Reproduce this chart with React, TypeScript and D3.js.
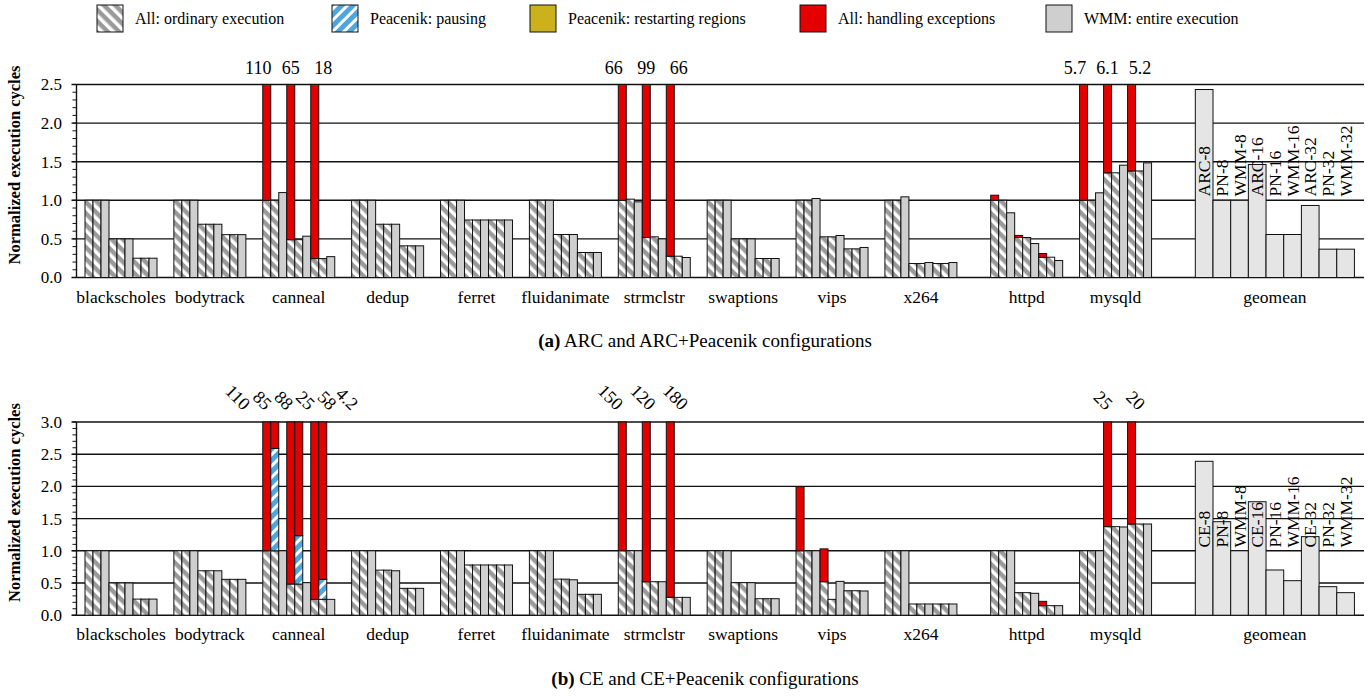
import React from "react";
import * as d3 from "d3";

// benchmarks and configurations
const benchmarks = ["blackscholes", "bodytrack", "canneal", "dedup", "ferret", "fluidanimate",
  "strmclstr", "swaptions", "vips", "x264", "httpd", "mysqld"];
const configsA = ["ARC-8", "PN-8", "WMM-8", "ARC-16", "PN-16", "WMM-16", "ARC-32", "PN-32", "WMM-32"];
const configsB = ["CE-8", "PN-8", "WMM-8", "CE-16", "PN-16", "WMM-16", "CE-32", "PN-32", "WMM-32"];

const legendLabels = ["All: ordinary execution", "Peacenik: pausing", "Peacenik: restarting regions",
  "All: handling exceptions", "WMM: entire execution"];

const none = [0, 0, 0, 0, 0, 0, 0, 0, 0];

// (a) ARC and ARC+Peacenik
const ordinaryA = [
  [1, 1, 1, 0.5, 0.5, 0.5, 0.25, 0.25, 0.25],
  [1, 1, 1, 0.69, 0.69, 0.69, 0.555, 0.555, 0.555],
  [1, 1, 1.1, 0.49, 0.49, 0.535, 0.245, 0.245, 0.27],
  [1, 1, 1, 0.69, 0.69, 0.69, 0.41, 0.41, 0.41],
  [1, 1, 1, 0.745, 0.745, 0.745, 0.745, 0.745, 0.745],
  [1, 1, 1, 0.557, 0.557, 0.557, 0.324, 0.324, 0.324],
  [1, 1.015, 0.98, 0.518, 0.527, 0.5, 0.276, 0.276, 0.259],
  [1, 1, 1, 0.5, 0.5, 0.5, 0.246, 0.246, 0.246],
  [1, 1, 1.023, 0.527, 0.527, 0.544, 0.371, 0.371, 0.389],
  [1, 1, 1.045, 0.181, 0.181, 0.194, 0.181, 0.181, 0.194],
  [1, 1, 0.838, 0.518, 0.518, 0.44, 0.26, 0.263, 0.22],
  [1, 1, 1.097, 1.356, 1.356, 1.455, 1.38, 1.38, 1.485],
];
// total height incl. exception handling (0 = no exception segment)
const exceptionTopA = [
  none, none,
  [110, 0, 0, 65, 0, 0, 18, 0, 0],
  none, none, none,
  [66, 0, 0, 99, 0, 0, 66, 0, 0],
  none, none, none,
  [1.066, 0, 0, 0.545, 0, 0, 0.31, 0, 0],
  [5.7, 0, 0, 6.1, 0, 0, 5.2, 0, 0],
];
const geomeanA = [2.435, 1, 1, 1.464, 0.557, 0.557, 0.933, 0.367, 0.367];

// (b) CE and CE+Peacenik
const ordinaryB = [
  [1, 1, 1, 0.5, 0.5, 0.5, 0.25, 0.25, 0.25],
  [1, 1, 1, 0.69, 0.69, 0.69, 0.557, 0.557, 0.557],
  [1, 1, 1, 0.484, 0.484, 0.505, 0.246, 0.246, 0.246],
  [1, 1, 1, 0.7, 0.7, 0.69, 0.417, 0.417, 0.417],
  [1, 1, 1, 0.78, 0.78, 0.78, 0.78, 0.78, 0.78],
  [1, 1, 1, 0.56, 0.56, 0.55, 0.324, 0.324, 0.324],
  [1, 1, 1, 0.52, 0.52, 0.52, 0.277, 0.277, 0.277],
  [1, 1, 1, 0.505, 0.505, 0.505, 0.256, 0.256, 0.256],
  [1, 1, 1, 0.52, 0.246, 0.525, 0.38, 0.38, 0.376],
  [1, 1, 1, 0.174, 0.174, 0.174, 0.174, 0.174, 0.174],
  [1, 1, 1, 0.35, 0.35, 0.34, 0.148, 0.148, 0.148],
  [1, 1, 1, 1.375, 1.375, 1.37, 1.416, 1.416, 1.416],
];
const pausingB = [
  none, none,
  [0, 1.59, 0, 0, 0.751, 0, 0, 0.311, 0],
  none, none, none, none, none, none, none, none, none,
];
const exceptionTopB = [
  none, none,
  [110, 85, 0, 88, 25, 0, 58, 4.2, 0],
  none, none, none,
  [150, 0, 0, 120, 0, 0, 180, 0, 0],
  none,
  [1.996, 0, 0, 1.03, 0, 0, 0, 0, 0],
  none,
  [0, 0, 0, 0, 0, 0, 0.215, 0, 0],
  [0, 0, 0, 25, 0, 0, 20, 0, 0],
];
const geomeanB = [2.39, 1.452, 1.0, 1.762, 0.702, 0.536, 1.22, 0.443, 0.35];

const yTicksA = [0, 0.5, 1, 1.5, 2, 2.5];
const yTicksB = [0, 0.5, 1, 1.5, 2, 2.5, 3];

// layout
const W = 1369, H = 696;
const FONT = "'Liberation Serif', 'Times New Roman', serif";
const axisX = 76.5, rightX = 1364;
const PITCH = 11.11, GAP_SERVER = 2.11, GAP_GEO = 3.36, GEO_BAR = 2.21;
const groupStart = (i: number) => i * PITCH + (i >= 10 ? GAP_SERVER : 0);
const geoStart = groupStart(12) + GAP_GEO;
const totalUnits = geoStart + 9 * GEO_BAR;
const x = d3.scaleLinear().domain([0, totalUnits]).range([85, 85 + totalUnits * 8]);
const fmt = d3.format(".2r");

const colors = {
  hatchGray: "#9a9a9a", blue: "#4ea6dc", yellow: "#cbb21c", red: "#e50000",
  wmm: "#cfcfcf", geo: "#e5e5e5",
};

type PanelProps = {
  top: number; bottom: number; yMax: number; ticks: number[];
  ordinary: number[][]; pausing: number[][] | null; exceptionTop: number[][];
  geomean: number[]; configs: string[]; rotatedLabels: boolean;
  caption: string; tag: string; captionY: number;
};

function Panel(p: PanelProps) {
  const y = d3.scaleLinear().domain([0, p.yMax]).range([p.bottom, p.top]);
  const minor = d3.range(0, p.yMax + 0.001, 0.1);
  const bw = x(1) - x(0);
  const rects: React.ReactNode[] = [];
  const labels: React.ReactNode[] = [];

  benchmarks.forEach((b, i) => {
    const overflow: { cx: number; v: number }[] = [];
    p.ordinary[i].forEach((o, j) => {
      const x0 = x(groupStart(i) + j);
      const hatched = j % 3 !== 2;
      const pz = p.pausing ? p.pausing[i][j] : 0;
      const ex = p.exceptionTop[i][j];
      rects.push(<rect key={`o${i}-${j}`} x={x0} y={y(o)} width={bw} height={y(0) - y(o)}
        fill={hatched ? "url(#hatchGray)" : colors.wmm} stroke="#111" strokeWidth={1} />);
      if (pz > 0) {
        rects.push(<rect key={`p${i}-${j}`} x={x0} y={y(o + pz)} width={bw} height={y(o) - y(o + pz)}
          fill="url(#hatchBlue)" stroke="#111" strokeWidth={1} />);
      }
      if (ex > 0) {
        const base = o + pz;
        const topV = Math.min(ex, p.yMax);
        rects.push(<rect key={`e${i}-${j}`} x={x0} y={y(topV)} width={bw} height={y(base) - y(topV)}
          fill={colors.red} stroke="#111" strokeWidth={1} />);
        if (ex > p.yMax) overflow.push({ cx: x0 + bw / 2, v: ex });
      }
    });
    if (overflow.length) {
      const mean = d3.mean(overflow, (d) => d.cx) as number;
      const gap = overflow.length > 3 ? 21.6 : 32.5;
      overflow.forEach((d, k) => {
        const lx = mean + (k - (overflow.length - 1) / 2) * gap;
        if (p.rotatedLabels) {
          labels.push(<text key={`l${i}-${k}`} transform={`translate(${lx + 2},${p.top - 11}) rotate(45)`}
            textAnchor="end" fontSize={18}>{fmt(d.v)}</text>);
        } else {
          labels.push(<text key={`l${i}-${k}`} x={lx} y={p.top - 11} textAnchor="middle" fontSize={18}>{fmt(d.v)}</text>);
        }
      });
    }
    labels.push(<text key={`x${i}`} x={x(groupStart(i) + 4.5)} y={p.bottom + 25} textAnchor="middle" fontSize={17.5}>{b}</text>);
  });

  const gw = x(GEO_BAR) - x(0);
  p.geomean.forEach((v, j) => {
    const x0 = x(geoStart + j * GEO_BAR);
    rects.push(<rect key={`g${j}`} x={x0} y={y(v)} width={gw} height={y(0) - y(v)}
      fill={colors.geo} stroke="#111" strokeWidth={1} />);
    labels.push(<text key={`gl${j}`} transform={`translate(${x0 + gw / 2 + 6},${y(1.05)}) rotate(-90)`}
      fontSize={17.5}>{p.configs[j]}</text>);
  });
  labels.push(<text key="geo" x={x(geoStart + 4.5 * GEO_BAR)} y={p.bottom + 25} textAnchor="middle" fontSize={17.5}>geomean</text>);

  return (
    <g>
      {minor.map((t) => (
        <line key={`m${t}`} x1={axisX - 4} x2={axisX} y1={y(t)} y2={y(t)} stroke="#111" strokeWidth={1} />
      ))}
      {p.ticks.map((t) => (
        <g key={`t${t}`}>
          <line x1={axisX - 5} x2={rightX} y1={y(t)} y2={y(t)} stroke="#111" strokeWidth={1.4} />
          <text x={62} y={y(t)} dy="0.35em" textAnchor="end" fontSize={17}>{t.toFixed(1)}</text>
        </g>
      ))}
      <line x1={axisX} x2={axisX} y1={p.top} y2={p.bottom} stroke="#111" strokeWidth={1.4} />
      {rects}
      {labels}
      <text transform={`translate(20,${(p.top + p.bottom) / 2 - 16}) rotate(-90)`} textAnchor="middle"
        fontSize={16.5} fontWeight="bold">Normalized execution cycles</text>
      <text x={705} y={p.captionY} textAnchor="middle" fontSize={19}>
        <tspan fontWeight="bold">{p.tag}</tspan> {p.caption}
      </text>
    </g>
  );
}

const legendX = [97, 332, 530, 800, 1046];
const legendFill = ["url(#hatchGray)", "url(#hatchBlue)", colors.yellow, colors.red, colors.wmm];

export default function App() {
  return (
    <svg width={W} height={H} style={{ position: "absolute", left: 0, top: 0, background: "#fff" }}
      fontFamily={FONT}>
      <defs>
        <pattern id="hatchGray" width={8} height={8} patternUnits="userSpaceOnUse" patternTransform="rotate(-45)">
          <rect width={8} height={8} fill={colors.hatchGray} />
          <rect width={3.5} height={8} fill="#fff" />
        </pattern>
        <pattern id="hatchBlue" width={8} height={8} patternUnits="userSpaceOnUse" patternTransform="rotate(45)">
          <rect width={8} height={8} fill={colors.blue} />
          <rect width={3} height={8} fill="#fff" />
        </pattern>
      </defs>
      <rect width={W} height={H} fill="#fff" />
      {legendLabels.map((l, k) => (
        <g key={l}>
          <rect x={legendX[k]} y={5} width={26} height={27} fill={legendFill[k]} stroke="#111" strokeWidth={1} />
          <text x={legendX[k] + 38} y={24} fontSize={16}>{l}</text>
        </g>
      ))}
      <Panel top={84.5} bottom={277.5} yMax={2.5} ticks={yTicksA} ordinary={ordinaryA} pausing={null}
        exceptionTop={exceptionTopA} geomean={geomeanA} configs={configsA} rotatedLabels={false}
        tag="(a)" caption="ARC and ARC+Peacenik configurations" captionY={347} />
      <Panel top={422} bottom={615.2} yMax={3} ticks={yTicksB} ordinary={ordinaryB} pausing={pausingB}
        exceptionTop={exceptionTopB} geomean={geomeanB} configs={configsB} rotatedLabels={true}
        tag="(b)" caption="CE and CE+Peacenik configurations" captionY={685} />
    </svg>
  );
}
